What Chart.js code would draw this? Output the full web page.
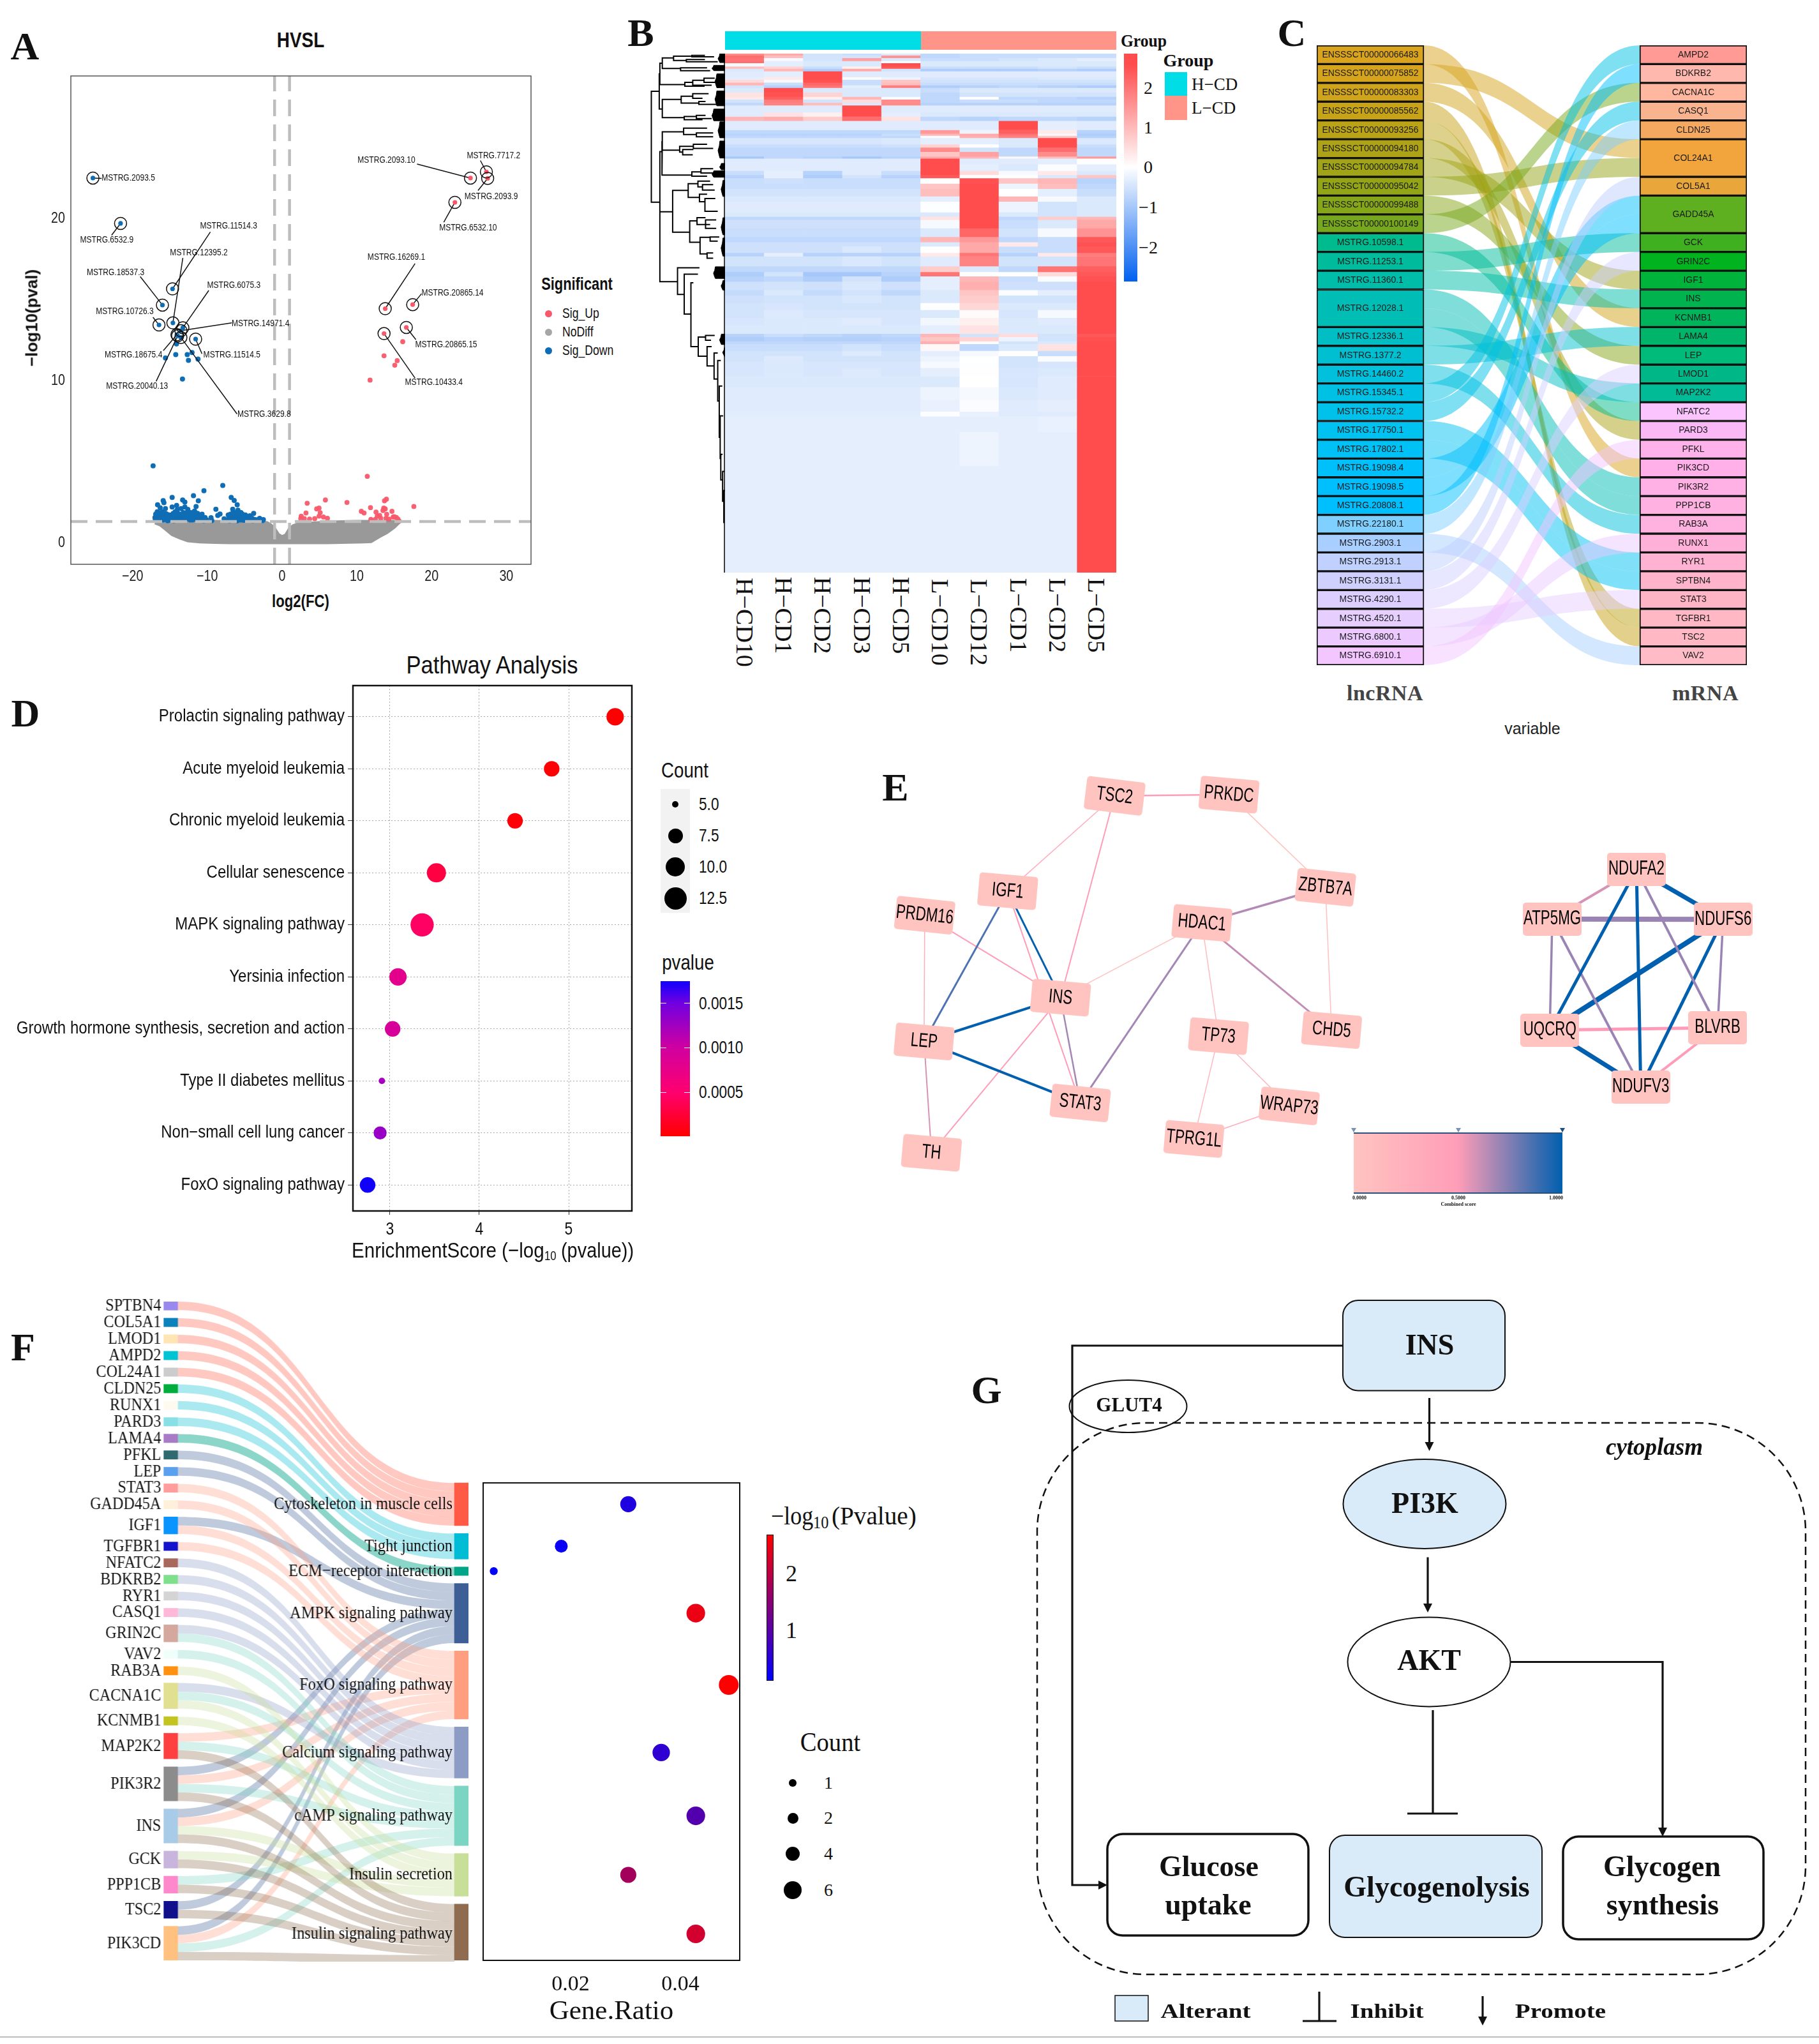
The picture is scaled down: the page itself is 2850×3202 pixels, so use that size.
<!DOCTYPE html>
<html>
<head>
<meta charset="utf-8">
<title>Multi-panel figure</title>
<script src="https://cdn.jsdelivr.net/npm/chart.js@4/dist/chart.umd.min.js"></script>
<style>
  html, body { margin: 0; padding: 0; background: #fff; }
  #page { position: relative; width: 2850px; height: 3202px; overflow: hidden; background: #fff; }
  #page canvas { position: absolute; }
  .lbl { position: absolute; white-space: nowrap; line-height: 1; color: #111; }
  .box { position: absolute; }
</style>
</head>
<body>
<div id="page"></div>
<script>
const SANS = '"Liberation Sans", Arial, sans-serif';
const SERIF = '"Liberation Serif", "Times New Roman", serif';

// ---------- Panel A data (volcano)
const aTicksX = [-20, -10, 0, 10, 20, 30];
const aTicksY = [0, 10, 20];
const grayX = [-17, -16.3, -15.5, -14.7, -13.6, -12.6, -11, -9, -7, -5.6, -4, -3, -2, -1.5, -1, -0.5, 0, 0.5, 1, 1.5, 2, 3, 4, 6, 8, 10, 11, 11.9, 13, 14, 15, 15.66];
const grayTop = [1.3, 1.3, 1.3, 1.3, 1.3, 1.3, 1.3, 1.3, 1.28, 1.28, 1.28, 1.26, 1.22, 1.08, 0.85, 0.5, 0.36, 0.46, 0.85, 1.04, 1.12, 1.16, 1.2, 1.25, 1.28, 1.3, 1.3, 1.3, 1.3, 1.3, 1.3, 1.3];
const grayBottom = [1.22, 1.1, 0.8, 0.5, 0.28, 0.12, 0.05, 0.02, 0, 0, 0, 0, 0, 0, 0, 0, 0, 0, 0, 0, 0, 0, 0, 0, 0.02, 0.04, 0.05, 0.07, 0.37, 0.62, 0.95, 1.25];
const downX = [-17, -16.9, -16.8, -16.65, -16.6, -16.5, -16.4, -16.3, -16.2, -16.1, -16, -15.9, -15.9, -15.8, -15.8, -15.7, -15.6, -15.6, -15.5, -15.3, -15.2, -15, -14.9, -14.7, -14.7, -14.7, -14.5, -14.3, -14.1, -14.1, -14, -13.8, -13.7, -13.5, -13.4, -13.3, -13.2, -13, -13, -12.9, -12.7, -12.6, -12.4, -12.2, -12, -11.9, -11.85, -11.7, -11.5, -11.5, -11.3, -11.2, -11.2, -11, -10.8, -10.7, -10.45, -10.5, -10.3, -10.1, -9.5, -9.4, -8.85, -8.6, -8.3, -7.93, -7.75, -7.3, -7.1, -7, -6.9, -6.8, -6.8, -6.6, -6.6, -6.4, -6.4, -6.2, -6.1, -6, -6, -5.9, -5.7, -5.6, -5.5, -5.4, -5.3, -5.1, -5, -4.9, -4.7, -4.6, -4.4, -4.3, -4.1, -3.9, -3.8, -3.6, -3.2, -3, -2.85, -2.6, -2.5,
  -17.25, -14.12, -14.22, -15.6, -12.68, -12.52, -12.04, -11.24, -13.32,
  -16.95, -16.75, -16.55, -16.35, -16.15, -15.95, -15.75, -15.45, -15.1, -14.8, -14.6, -14.4, -14.2, -13.9, -13.6, -13.3, -13.1, -12.8, -12.5, -12.3, -12.1, -11.8, -11.6, -11.4, -11.1, -10.9, -10.6, -10.2, -7.2, -6.95, -6.7, -6.5, -6.3, -6.05, -5.8, -5.2, -4.8, -4.5, -4.2, -4, -3.4,
  -16.7, -16.25, -15.65, -15.4, -15.05, -14.85, -14.55, -14.25, -13.95, -13.65, -13.35, -13.05, -12.75, -12.45, -12.15, -11.75, -11.45, -11.15, -10.85, -6.85, -6.55, -6.25, -5.95, -5.65, -5.35, -5.05, -4.65, -4.25];
const downY = [1.55, 1.75, 1.4, 2.33, 1.6, 1.85, 1.4, 2.15, 1.7, 1.5, 1.9, 1.4, 2.59, 1.65, 2.46, 1.45, 1.8, 2.1, 1.55, 1.35, 1.5, 1.7, 1.4, 1.55, 2.2, 2.79, 1.35, 1.9, 1.6, 2.29, 2.05, 1.4, 1.75, 2.1, 1.5, 2.63, 1.85, 2.2, 2.5, 1.45, 1.7, 2.05, 1.5, 1.85, 1.4, 1.65, 2.9, 1.95, 1.5, 2.23, 1.8, 1.4, 2.58, 1.6, 1.45, 1.75, 3.2, 1.35, 1.55, 1.4, 1.54, 1.36, 2.06, 1.67, 1.76, 3.53, 1.47, 1.4, 1.55, 1.35, 1.75, 2.79, 1.45, 2.06, 1.6, 2.6, 1.4, 1.85, 1.5, 2.33, 1.35, 2.0, 1.65, 1.4, 1.85, 1.5, 1.75, 1.38, 1.6, 1.7, 1.42, 1.55, 1.38, 1.65, 1.45, 1.36, 1.8, 1.42, 1.38, 1.5, 1.4, 1.36, 1.42,
  4.74, 12.26, 11.6, 11.4, 11.6, 11.25, 11.73, 11.33, 10.1,
  1.4, 1.5, 1.45, 1.65, 1.4, 1.6, 1.45, 1.7, 1.4, 1.65, 1.7, 1.5, 1.75, 1.6, 1.55, 1.6, 1.7, 1.55, 1.65, 1.4, 1.6, 1.45, 1.7, 1.6, 1.4, 1.55, 1.5, 1.38, 1.7, 1.6, 1.5, 1.7, 1.6, 1.75, 1.5, 1.45, 1.55, 1.6, 1.4, 1.5, 1.4,
  1.9, 1.55, 1.5, 1.75, 1.55, 1.45, 1.8, 1.45, 1.8, 1.4, 1.7, 1.5, 1.85, 1.75, 1.5, 1.45, 1.75, 1.6, 1.7, 1.55, 1.85, 1.45, 1.7, 1.55, 1.4, 1.5, 1.6, 1.45];
const upX = [16.14, 13.64, 15.4, 15.08, 11.77, 11.4, 17.63, 13.96, 13.7, 5.8, 8.68, 3.36, 4.95, 4.63, 3.2, 2.56, 2.5, 10.6, 10.97, 11.83, 13.6, 13.5, 13.8, 14.7, 12.57, 12.73, 13.05, 12.47, 11.88, 15.66, 14.86, 15.29, 14.3, 13.2, 4.95, 5.54, 6.07, 4.37, 3.68, 2.98, 5.1, 14, 15, 15.5, 12, 13.9];
const upY = [12.4, 11.53, 11.23, 10.95, 10.03, 4.09, 2.23, 2.68, 2.58, 2.63, 2.48, 2.43, 2.13, 2.08, 1.83, 1.63, 1.48, 1.93, 1.83, 2.16, 2.13, 1.98, 2.08, 1.93, 1.88, 1.63, 1.68, 1.43, 1.43, 1.33, 1.58, 1.55, 1.45, 1.5, 1.63, 1.58, 1.5, 1.48, 1.45, 1.48, 1.85, 1.75, 1.6, 1.45, 1.35, 1.5];
const tagNames = ['MSTRG.2093.5', 'MSTRG.6532.9', 'MSTRG.11514.3', 'MSTRG.12395.2', 'MSTRG.18537.3', 'MSTRG.10726.3', 'MSTRG.6075.3', 'MSTRG.14971.4', 'MSTRG.18675.4', 'MSTRG.11514.5', 'MSTRG.20040.13', 'MSTRG.3629.8', 'MSTRG.2093.10', 'MSTRG.7717.2', 'MSTRG.2093.9', 'MSTRG.6532.10', 'MSTRG.16269.1', 'MSTRG.20865.14', 'MSTRG.20865.15', 'MSTRG.10433.4'];
const tagX = [-25.3, -21.6, -14.65, -14.6, -16, -16.46, -13.27, -13.53, -14.06, -11.56, -13.96, -13.53, 25.2, 27.33, 27.5, 23.12, 13.8, 17.47, 16.62, 13.64];
const tagY = [22.5, 19.7, 15.66, 13.56, 14.66, 13.43, 13.26, 13.08, 12.83, 12.56, 12.76, 12.66, 22.5, 22.88, 22.48, 21, 14.44, 14.69, 13.28, 12.9];
const tagTextX = [-20.56, -23.44, -7.14, -11.13, -22.27, -21.04, -6.45, -2.88, -19.87, -6.71, -19.39, -2.4, 13.96, 28.29, 27.97, 24.88, 15.29, 22.8, 21.95, 20.3];
const tagTextY = [22.48, 18.65, 19.52, 17.89, 16.64, 14.24, 15.86, 13.51, 11.58, 11.58, 9.65, 7.92, 23.61, 23.88, 21.33, 19.4, 17.59, 15.39, 12.21, 9.87];
const tagLeadX = [-24.13, -22.8, -9.59, -13.27, -18.97, -17.26, -9.8, -6.71, -15.88, -10.71, -16.84, -6.02, 18.06, 26.53, 26.21, 21.63, 17.79, 18.65, 17.9, 17.79];
const tagLeadY = [22.48, 18.97, 19.17, 17.57, 16.42, 13.91, 15.56, 13.56, 11.85, 11.65, 9.95, 7.94, 23.36, 23.58, 21.73, 19.77, 17.22, 15.36, 12.53, 10.15];

// ---------- Panel B data (heatmap, rows from top, 3 row units = 1 picture pixel)
const heatSamples = ['H\u2212CD10', 'H\u2212CD1', 'H\u2212CD2', 'H\u2212CD3', 'H\u2212CD5', 'L\u2212CD10', 'L\u2212CD12', 'L\u2212CD1', 'L\u2212CD2', 'L\u2212CD5'];
const heatSpan = [8, 12, 14, 10, 16, 10, 12, 28, 12, 13, 13, 12, 22, 20, 13, 15, 12, 33, 20, 20, 43, 17, 10, 10, 30, 15, 20, 22, 10, 27,
  30, 20, 15, 25, 25, 35, 25, 50, 20, 15, 40, 40, 25, 20, 30, 17, 46, 27, 20, 25, 40,
  25, 35, 33, 37, 35, 40, 15, 20, 13, 32, 25, 25, 30, 40, 50, 60, 55, 23, 72, 160, 501];
const heatZ = [
  [1.6, 1.2, -.5, -.6, -.4, -.7, -.6, -.6, -.6, -.6],
  [2.0, .9, -.5, -.5, 1.5, -.7, -.6, -.6, -.6, -.6],
  [1.9, -.1, -.5, 1.3, -.4, -.6, -.6, -.5, -.4, -.3],
  [2.0, -.3, -.4, -.4, -.05, -.4, -.4, -.4, -.4, -.4],
  [-.1, -.3, -.4, -.4, 2.5, -.4, -.4, -.4, -.4, -.4],
  [.9, .6, -.6, .2, 2.3, -.6, -.6, -.6, -.5, -.6],
  [-.4, 1.0, -.9, 1.2, -.5, -.9, -.9, -.9, -.8, -.9],
  [-.35, -.3, 2.6, -.35, -.35, -.35, -.35, -.35, -.35, -.35],
  [-.3, .3, 2.5, .1, -.2, -.45, -.45, -.45, -.4, -.4],
  [.5, -.1, 2.4, -.6, .8, -.5, -.5, -.5, -.5, -.5],
  [1.0, -.6, 2.1, -.6, .9, -.6, -.6, -.6, -.6, -.6],
  [-.5, -.8, 1.9, -.3, 1.8, -.9, -.8, -.7, -.8, -.9],
  [-.4, 2.6, -.4, -.4, -.4, -.6, -.4, -.4, -.4, -.4],
  [.4, 2.4, .6, -.4, -.4, -.7, -.5, -.5, -.5, -.5],
  [.3, 2.2, .2, 1.0, -.05, -.7, 0, -.7, -.7, -.8],
  [-.5, 1.8, -.5, .5, 1.6, -.7, -.6, -.6, -.7, -.7],
  [-.7, 1.7, .9, -.4, 1.6, -.8, -.8, -.8, -.8, -.8],
  [-.35, -.35, -.35, 2.6, -.35, -.35, -.35, -.35, -.35, -.35],
  [-.35, .4, .2, 2.5, -.3, -.4, -.4, -.4, -.4, -.4],
  [1.0, 1.1, .7, 2.0, .4, -.7, -.8, -.7, -.7, -.8],
  [-.35, -.35, -.35, -.35, -.35, -.35, -.35, 2.6, -.3, -.35],
  [-.7, -.7, -.7, -.7, -.7, 1.4, -.2, 2.2, .3, -.8],
  [-.8, -.8, -.8, -.8, -.6, 1.0, 1.2, 1.9, -.1, -.9],
  [-.7, -.7, -.7, -.7, -.7, -.05, 1.1, 1.7, .8, -.8],
  [-.45, -.45, -.45, -.45, -.4, -.3, -.3, -.4, 2.6, -.4],
  [-.6, -.6, -.6, -.6, -.55, .6, 0, -.4, 2.5, -.6],
  [-.7, -.7, -.7, -.7, -.7, 1.6, -.5, -.7, 2.0, -.7],
  [-.7, -.7, -.7, -.7, -.7, .8, 1.3, -.7, 1.6, -.7],
  [-1, -.7, -.8, -1, -.8, 1.2, 1.0, .1, .9, 1.4],
  [-.35, -.35, -.35, -.35, -.35, 2.6, -.35, -.35, -.3, 0],
  [-.35, -.35, -.35, -.35, -.35, 2.6, -.3, -.4, -.05, -.3],
  [-.6, -.3, -.8, -.35, -.6, 2.5, .5, -.1, .3, -.4],
  [-.8, -.3, -.9, -.5, -.8, 2.3, 0, 0, -.4, .8],
  [-.6, -.55, -.6, -.6, -.6, 0, 2.4, .8, 1.0, -.8],
  [-.6, -.6, -.6, -.6, -.6, .8, 2.5, -.2, .9, -.7],
  [-.5, -.5, -.5, -.5, -.5, .9, 2.5, 0, -.3, -.6],
  [-.4, -.4, -.4, -.4, -.4, -.3, 2.6, 1.0, -.1, -.4],
  [-.35, -.35, -.35, -.35, -.35, -.02, 2.6, -.2, -.5, -.4],
  [-.4, -.4, -.4, -.4, -.4, -.4, 2.6, -.4, -.5, -.4],
  [-.7, -.7, -.7, -.7, -.7, .4, 2.5, -.7, .7, 1.0],
  [-.55, -.55, -.55, -.55, -.55, -.1, 2.5, -.6, -.4, 1.2],
  [-.6, -.6, -.6, -.6, -.6, -.4, 2.1, -.5, -.1, 1.5],
  [-.7, -.7, -.7, -.7, -.7, 1.0, 1.4, -.7, -.6, 2.3],
  [-.55, -.55, -.55, -.55, -.55, -.4, 1.2, .3, -.6, 2.4],
  [-.55, -.55, -.55, -.42, -.55, 0, 1.2, -.6, -.6, 2.3],
  [-.8, -.3, -.8, -.8, -.8, .3, 1.9, -.8, .3, 1.8],
  [-.5, -.5, -.5, -.42, -.5, -.35, 1.7, -.5, -.5, 1.9],
  [-.7, -.7, -.7, -.7, -.7, .7, -.4, -.7, 1.9, 2.2],
  [-.9, -.5, -1, -1, -.8, 1.9, 0, 0, .5, 2.3],
  [-.8, -.7, -.9, -.5, -.9, -.3, 1.0, -.6, -.05, 2.4],
  [-.55, -.5, -.55, -.42, -.55, -.3, 1.1, -.55, -.55, 2.5],
  [-.65, -.4, -.65, -.5, -.7, -.4, .8, -.05, -.3, 2.6],
  [-.55, -.5, -.5, -.42, -.5, -.4, .7, -.5, -.5, 2.6],
  [-.5, -.45, -.5, -.5, -.5, -.02, .55, -.4, -.4, 2.6],
  [-.5, -.38, -.45, -.45, -.45, -.4, .05, -.45, -.1, 2.6],
  [-.45, -.4, -.4, -.35, -.45, -.15, .2, -.4, -.35, 2.6],
  [-.4, -.4, -.4, -.4, -.4, -.3, .4, -.4, -.4, 2.6],
  [-.8, -.6, -.7, -.8, -.7, 1.0, -.5, .5, -.5, 2.3],
  [-.9, -.8, -.85, -.85, -.8, .8, .6, -.2, -.5, 2.4],
  [-.7, -.7, -.7, -.7, -.7, 1.1, .05, -.5, -.4, 2.6],
  [-.6, -.6, -.6, -.5, -.6, .1, -.7, -.4, .4, 2.6],
  [-.5, -.5, -.5, -.38, -.5, -.3, -.1, 0, -.6, 2.6],
  [-.5, -.38, -.5, -.5, -.5, -.2, 0, -.5, -.05, 2.6],
  [-.45, -.4, -.45, -.45, -.45, -.1, -.02, -.5, -.45, 2.6],
  [-.45, -.4, -.45, -.38, -.45, -.3, -.01, -.45, -.4, 2.6],
  [-.4, -.4, -.4, -.4, -.4, -.4, 0, -.45, -.35, 2.6],
  [-.35, -.35, -.35, -.35, -.35, -.2, -.1, -.4, -.35, 2.6],
  [-.35, -.35, -.35, -.35, -.35, -.25, -.05, -.35, -.3, 2.6],
  [-.33, -.33, -.33, -.33, -.33, -.03, -.25, -.35, -.35, 2.6],
  [-.3, -.3, -.3, -.3, -.3, -.3, -.3, -.3, -.25, 2.6],
  [-.3, -.3, -.3, -.3, -.3, -.3, -.2, -.3, -.3, 2.6],
  [-.3, -.3, -.3, -.3, -.3, -.3, -.3, -.3, -.3, 2.6]
];
// elbow: [height of the join, top row, top child height, bottom row, bottom child height]
const dendroElbows = [
  [22, 177, 48, 697, 50], [48, 95, 50, 260, 58], [50, 45, 58, 145, 132], [58, 20, 95, 70, 118], [95, 12, 155, 32, 137],
  [155, 8, 198, 15, 228], [137, 28, 198, 38, 240], [118, 67, 205, 80, 215], [132, 135, 158, 153, 197], [158, 125, 195, 148, 220],
  [195, 115, 230, 135, 235], [58, 215, 120, 300, 130], [120, 200, 158, 232, 178], [158, 188, 210, 210, 190], [178, 225, 200, 238, 240],
  [130, 295, 170, 310, 190], [170, 290, 200, 305, 220], [50, 460, 57, 900, 50], [50, 742, 92, 1070, 108], [57, 410, 58, 570, 155],
  [58, 367, 128, 453, 115], [128, 350, 205, 380, 170], [170, 372, 225, 390, 225], [115, 435, 160, 462, 125], [125, 450, 160, 475, 158],
  [160, 425, 205, 445, 225], [155, 555, 185, 575, 205], [185, 540, 225, 560, 235], [92, 642, 143, 838, 148], [143, 610, 175, 675, 180],
  [175, 598, 215, 625, 190], [190, 615, 225, 640, 230], [180, 660, 205, 695, 198], [198, 680, 232, 740, 240], [148, 785, 172, 885, 182],
  [172, 770, 200, 802, 215], [200, 780, 235, 820, 235], [182, 862, 215, 940, 205], [215, 860, 245, 880, 240], [205, 935, 225, 960, 225],
  [108, 1005, 180, 1130, 130], [130, 1035, 175, 1222, 152], [152, 1075, 160, 1375, 176], [176, 1330, 200, 1420, 205], [200, 1322, 230, 1345, 218],
  [205, 1375, 220, 1465, 228], [228, 1405, 240, 1527, 240], [240, 1440, 250, 1630, 245], [245, 1560, 255, 1800, 248], [248, 1700, 258, 1900, 250],
  [250, 1880, 256, 2000, 258], [256, 1960, 262, 2100, 260], [260, 2050, 264, 2200, 262]
];
const fringeTop = [0, 55, 95, 175, 260, 320, 410, 515, 550, 595, 770, 865, 1000, 1065, 1316, 1380];
const fringeBottom = [42, 80, 160, 245, 315, 395, 490, 545, 580, 670, 850, 950, 1055, 1110, 1365, 1420];
const fringeReach = [225, 205, 215, 215, 205, 225, 225, 230, 205, 235, 235, 235, 210, 235, 230, 240];

// ---------- Panel C data (lncRNA - mRNA alluvial)
const lncNames = ['ENSSSCT00000066483', 'ENSSSCT00000075852', 'ENSSSCT00000083303', 'ENSSSCT00000085562', 'ENSSSCT00000093256', 'ENSSSCT00000094180', 'ENSSSCT00000094784', 'ENSSSCT00000095042', 'ENSSSCT00000099488', 'ENSSSCT00000100149', 'MSTRG.10598.1', 'MSTRG.11253.1', 'MSTRG.11360.1', 'MSTRG.12028.1', 'MSTRG.12336.1', 'MSTRG.1377.2', 'MSTRG.14460.2', 'MSTRG.15345.1', 'MSTRG.15732.2', 'MSTRG.17750.1', 'MSTRG.17802.1', 'MSTRG.19098.4', 'MSTRG.19098.5', 'MSTRG.20808.1', 'MSTRG.22180.1', 'MSTRG.2903.1', 'MSTRG.2913.1', 'MSTRG.3131.1', 'MSTRG.4290.1', 'MSTRG.4520.1', 'MSTRG.6800.1', 'MSTRG.6910.1'];
const lncCount = [1, 1, 1, 1, 1, 1, 1, 1, 1, 1, 1, 1, 1, 2, 1, 1, 1, 1, 1, 1, 1, 1, 1, 1, 1, 1, 1, 1, 1, 1, 1, 1];
const mrnaNames = ['AMPD2', 'BDKRB2', 'CACNA1C', 'CASQ1', 'CLDN25', 'COL24A1', 'COL5A1', 'GADD45A', 'GCK', 'GRIN2C', 'IGF1', 'INS', 'KCNMB1', 'LAMA4', 'LEP', 'LMOD1', 'MAP2K2', 'NFATC2', 'PARD3', 'PFKL', 'PIK3CD', 'PIK3R2', 'PPP1CB', 'RAB3A', 'RUNX1', 'RYR1', 'SPTBN4', 'STAT3', 'TGFBR1', 'TSC2', 'VAV2'];
const mrnaCount = [1, 1, 1, 1, 1, 2, 1, 2, 1, 1, 1, 1, 1, 1, 1, 1, 1, 1, 1, 1, 1, 1, 1, 1, 1, 1, 1, 1, 1, 1, 1];
// link slots, one row each, top to bottom on the two sides
const linkFrom = [0, 1, 2, 3, 4, 5, 6, 7, 8, 9, 10, 11, 12, 13, 14, 15, 16, 17, 18, 19, 20, 21, 22, 23, 24, 25, 26, 27, 28, 29, 30, 31, 32];
const linkTo = [22, 5, 14, 31, 30, 20, 12, 6, 16, 2, 19, 10, 13, 23, 24, 18, 15, 25, 0, 3, 27, 28, 8, 9, 1, 4, 32, 7, 11, 17, 29, 26, 21];

// ---------- Panel D data (pathway dots)
const dPathways = ['Prolactin signaling pathway', 'Acute myeloid leukemia', 'Chronic myeloid leukemia', 'Cellular senescence', 'MAPK signaling pathway', 'Yersinia infection', 'Growth hormone synthesis, secretion and action', 'Type II diabetes mellitus', 'Non\u2212small cell lung cancer', 'FoxO signaling pathway'];
const dScore = [5.52, 4.81, 4.40, 3.52, 3.36, 3.09, 3.03, 2.91, 2.89, 2.75];
const dCount = [9, 8, 8, 10, 13, 9, 8, 5, 7, 8];
const dPvalue = [0.000003, 0.000015, 0.00004, 0.0003, 0.00044, 0.0008, 0.00093, 0.00123, 0.00129, 0.00178];
const dTicks = [3, 4, 5];
const dCountKey = ['5.0', '7.5', '10.0', '12.5'];
const dPvalueKey = ['0.0015', '0.0010', '0.0005'];

// ---------- Panel E data (network, node centres in layout units)
const netNames = ['TSC2', 'PRKDC', 'IGF1', 'ZBTB7A', 'PRDM16', 'HDAC1', 'INS', 'LEP', 'TP73', 'CHD5', 'STAT3', 'WRAP73', 'TPRG1L', 'TH', 'NDUFA2', 'ATP5MG', 'NDUFS6', 'UQCRQ', 'BLVRB', 'NDUFV3'];
const netX = [422, 608, 248, 765, 113, 564, 334, 112, 591, 775, 366, 706, 551, 124, 1271, 1134, 1412, 1130, 1403, 1278];
const netY = [142, 138, 460, 447, 540, 566, 815, 961, 943, 923, 1166, 1176, 1286, 1332, 387, 553, 554, 923, 915, 1113];
const netTilt = [7, 5, 5, 6, 6, 5, 5, 5, 5, 5, 6, 6, 5, 5, 0, 0, 0, 0, 0, 0];
const edgeA = ['TSC2', 'TSC2', 'TSC2', 'PRKDC', 'ZBTB7A', 'ZBTB7A', 'HDAC1', 'HDAC1', 'HDAC1', 'HDAC1', 'IGF1', 'IGF1', 'IGF1', 'PRDM16', 'PRDM16', 'LEP', 'LEP', 'LEP', 'INS', 'INS', 'TP73', 'TP73', 'WRAP73',
  'NDUFA2', 'NDUFA2', 'NDUFA2', 'NDUFA2', 'NDUFA2', 'ATP5MG', 'ATP5MG', 'ATP5MG', 'NDUFS6', 'NDUFS6', 'NDUFS6', 'UQCRQ', 'UQCRQ', 'BLVRB'];
const edgeB = ['PRKDC', 'IGF1', 'INS', 'ZBTB7A', 'HDAC1', 'CHD5', 'INS', 'STAT3', 'TP73', 'CHD5', 'INS', 'STAT3', 'LEP', 'INS', 'LEP', 'INS', 'STAT3', 'TH', 'TH', 'STAT3', 'TPRG1L', 'WRAP73', 'TPRG1L',
  'ATP5MG', 'NDUFS6', 'UQCRQ', 'NDUFV3', 'BLVRB', 'NDUFS6', 'UQCRQ', 'NDUFV3', 'UQCRQ', 'NDUFV3', 'BLVRB', 'BLVRB', 'NDUFV3', 'NDUFV3'];
const edgeScore = [.5, .3, .5, .05, .65, .05, .05, .68, .1, .62, 1, .5, .85, .5, .3, 1, 1, .58, .5, .68, .15, .2, .3,
  .58, 1, 1, 1, .7, .7, .7, .7, 1, 1, .7, .5, 1, .5];
const edgeWeight = [2.5, 1.5, 2, 1.5, 3.5, 1.5, 1.5, 3, 1.5, 3, 3, 2, 3, 2, 1.5, 4, 4, 2, 2, 2.5, 1.5, 1.5, 1.5,
  4, 7, 5, 5, 4, 8, 3.5, 4, 8, 5, 3.5, 5, 7, 4];

// ---------- Panel F data (gene - pathway sankey and dots)
const fGenes = ['SPTBN4', 'COL5A1', 'LMOD1', 'AMPD2', 'COL24A1', 'CLDN25', 'RUNX1', 'PARD3', 'LAMA4', 'PFKL', 'LEP', 'STAT3', 'GADD45A', 'IGF1', 'TGFBR1', 'NFATC2', 'BDKRB2', 'RYR1', 'CASQ1', 'GRIN2C', 'VAV2', 'RAB3A', 'CACNA1C', 'KCNMB1', 'MAP2K2', 'PIK3R2', 'INS', 'GCK', 'PPP1CB', 'TSC2', 'PIK3CD'];
const fPathways = ['Cytoskeleton in muscle cells', 'Tight junction', 'ECM\u2212receptor interaction', 'AMPK signaling pathway', 'FoxO signaling pathway', 'Calcium signaling pathway', 'cAMP signaling pathway', 'Insulin secretion', 'Insulin signaling pathway'];
const cytoGenes = ['SPTBN4', 'COL5A1', 'LMOD1', 'AMPD2', 'COL24A1'];
const tightGenes = ['CLDN25', 'RUNX1', 'PARD3'];
const ecmGenes = ['LAMA4'];
const ampkGenes = ['PFKL', 'LEP', 'IGF1', 'PIK3R2', 'INS', 'TSC2', 'PIK3CD'];
const foxoGenes = ['STAT3', 'GADD45A', 'IGF1', 'TGFBR1', 'MAP2K2', 'PIK3R2', 'INS', 'PIK3CD'];
const calciumGenes = ['NFATC2', 'BDKRB2', 'RYR1', 'CASQ1', 'GRIN2C', 'CACNA1C'];
const campGenes = ['GRIN2C', 'VAV2', 'CACNA1C', 'MAP2K2', 'PIK3R2', 'PPP1CB', 'PIK3CD'];
const secretionGenes = ['RAB3A', 'CACNA1C', 'KCNMB1', 'INS', 'GCK'];
const insulinGenes = ['MAP2K2', 'PIK3R2', 'INS', 'GCK', 'PPP1CB', 'TSC2', 'PIK3CD'];
const fGeneRatio = [0.0305, 0.0183, 0.006, 0.0428, 0.0488, 0.0365, 0.0428, 0.0305, 0.0428];
const fLogP = [0.4, 0.2, 0.1, 2.4, 2.6, 0.55, 0.9, 1.7, 2.15];
const fTicks = [0.02, 0.04];
const fCountKey = ['1', '2', '4', '6'];

// ---------- Styles kept apart from the data
const lncColors = ['#d9a31e', '#d5a31c', '#cfa31a', '#c7a318', '#bba317', '#aea316', '#a0a416', '#93a416', '#85a618', '#76a71c', '#00bb8e', '#00bc9c', '#00bdaa', '#00beb6', '#00bec4', '#00bfd0', '#00c0dc', '#00c1e4', '#00c1ea', '#00c2f0', '#00c1f6', '#00c0fc', '#00bfff', '#00bfff', '#7fd0ff', '#a8cfff', '#c0d0ff', '#d0d0ff', '#dccfff', '#e6cfff', '#eccaff', '#f4c6ff'];
const mrnaColors = ['#ff9a94', '#ffb8ae', '#ffb79f', '#f9b48f', '#f5a860', '#f2a53c', '#e9a63a', '#5fb020', '#3fb01f', '#00b31f', '#00b33a', '#00b34f', '#00b45c', '#00b46a', '#00bb7a', '#00b887', '#00bb95', '#fbc4ff', '#fbb8f6', '#ffb2ea', '#ffb0e8', '#ffb0e4', '#ffb2e2', '#ffb2e0', '#ffb0d8', '#ffb2d2', '#ffb4cc', '#ffb4c6', '#ffb8c4', '#ffb8c4', '#ffbcc6'];
const fGeneColors = ['#9988ee', '#0c82bd', '#ffe4b4', '#00c4d4', '#cccccc', '#00ad3c', '#fffaf0', '#88e0e6', '#a97bc6', '#2e6a6e', '#5aa0ee', '#ff9c9c', '#fff0dc', '#0a94ff', '#1414cc', '#a8685c', '#7ee08a', '#d4d4d4', '#ffb8d8', '#d4a89c', '#f0fffa', '#ff9010', '#e0e090', '#c4c420', '#ff4040', '#8c8c8c', '#a8cce8', '#c8b4dc', '#ff88cc', '#10108c', '#ffc080'];
const fPathColors = ['#ff5a45', '#00bcd4', '#00a587', '#3d5f95', '#ff9f80', '#8c9cc4', '#7cd4c2', '#c8df99', '#8f6c50'];

const page = document.getElementById('page');

function hexRgb(h) { return [parseInt(h.slice(1, 3), 16), parseInt(h.slice(3, 5), 16), parseInt(h.slice(5, 7), 16)]; }
function mix(a, b, t) {
  const p = hexRgb(a), q = hexRgb(b);
  return 'rgb(' + p.map((v, i) => Math.round(v + (q[i] - v) * t)).join(',') + ')';
}
function alpha(h, a) { const c = hexRgb(h); return 'rgba(' + c.join(',') + ',' + a + ')'; }
function ramp(stops, colors, v) {
  for (let i = 1; i < stops.length; i++) {
    if (v <= stops[i]) return mix(colors[i - 1], colors[i], (v - stops[i - 1]) / (stops[i] - stops[i - 1]));
  }
  return colors[colors.length - 1];
}
function lookup(xs, ys, v) {
  for (let i = 1; i < xs.length; i++) {
    if (v <= xs[i]) return ys[i - 1] + (ys[i] - ys[i - 1]) * (v - xs[i - 1]) / (xs[i] - xs[i - 1]);
  }
  return ys[ys.length - 1];
}

// text outside the charts
function label(text, x, y, font, opt) {
  opt = opt || {};
  const el = document.createElement('div');
  el.className = 'lbl';
  el.textContent = text;
  el.style.font = font;
  el.style.left = x + 'px';
  el.style.top = y + 'px';
  if (opt.color) el.style.color = opt.color;
  if (opt.spacing) el.style.letterSpacing = opt.spacing;
  const ax = opt.align === 'left' ? '0' : '-50%';
  el.style.transformOrigin = opt.align === 'left' ? 'left center' : 'center center';
  el.style.transform = 'translate(' + ax + ',-50%) rotate(' + (opt.rot || 0) + 'deg) scaleX(' + (opt.sx || 1) + ')';
  page.appendChild(el);
  return el;
}
function rect(x, y, w, h, css) {
  const el = document.createElement('div');
  el.className = 'box';
  el.style.cssText += 'left:' + x + 'px;top:' + y + 'px;width:' + w + 'px;height:' + h + 'px;' + (css || '');
  page.appendChild(el);
  return el;
}
function dot(x, y, r, color) { rect(x - r, y - r, 2 * r, 2 * r, 'border-radius:50%;background:' + color); }

// text inside a chart, squeezed like the original figure
function drawText(ctx, s, x, y, o) {
  ctx.save();
  ctx.translate(x, y);
  if (o.rot) ctx.rotate(o.rot);
  ctx.scale(o.sx || 1, 1);
  ctx.font = o.font;
  ctx.fillStyle = o.color || '#111';
  ctx.textAlign = o.align || 'center';
  ctx.textBaseline = 'middle';
  ctx.fillText(s, 0, 0);
  ctx.restore();
}

// canvas whose plot area lands exactly on the given box
function makeChart(box, margins, config) {
  const m = Object.assign({ l: 2, t: 2, r: 2, b: 2 }, margins);
  const c = document.createElement('canvas');
  const w = box.r - box.l + m.l + m.r, h = box.b - box.t + m.t + m.b;
  c.width = w; c.height = h;
  c.style.left = (box.l - m.l) + 'px';
  c.style.top = (box.t - m.t) + 'px';
  c.style.width = w + 'px';
  c.style.height = h + 'px';
  page.appendChild(c);
  config.options = config.options || {};
  Object.assign(config.options, { responsive: false, animation: false, devicePixelRatio: 1 });
  config.options.events = [];
  config.options.plugins = Object.assign({ legend: { display: false }, tooltip: { enabled: false } }, config.options.plugins);
  const sx = config.options.scales || {};
  config.options.layout = { autoPadding: false, padding: {
    left: sx.y && sx.y.display !== false ? 0 : m.l,
    right: m.r,
    top: m.t,
    bottom: sx.x && sx.x.display !== false ? 0 : m.b
  } };
  return new Chart(c, config);
}
function fitted(size) {
  return s => {
    if (s.isHorizontal()) s.height = size; else s.width = size;
    s.paddingLeft = s.paddingRight = s.paddingTop = s.paddingBottom = 0;
  };
}
function setTicks(list) { return s => { s.ticks = list.map(v => ({ value: v })); }; }
const framePlugin = {
  id: 'frame',
  afterDatasetsDraw(chart, args, o) {
    const a = chart.chartArea, ctx = chart.ctx;
    ctx.save();
    ctx.strokeStyle = o.color || '#333';
    ctx.lineWidth = o.width || 1.5;
    ctx.strokeRect(a.left, a.top, a.right - a.left, a.bottom - a.top);
    ctx.restore();
  }
};
// tick labels placed by the scale but squeezed sideways, the way the figure has them
const squeezePlugin = {
  id: 'squeeze',
  afterDraw(chart, args, o) {
    ['x', 'y'].forEach(k => {
      const c = o[k];
      if (!c) return;
      const s = chart.scales[k];
      s.ticks.forEach(t => {
        const p = s.getPixelForValue(t.value);
        const text = c.names ? c.names[t.value] : String(t.value).replace('-', '\u2212');
        if (k === 'x') drawText(chart.ctx, text, p, s.top + c.gap, { font: c.font, sx: c.sx, color: c.color });
        else drawText(chart.ctx, text, s.right - c.gap, p, { font: c.font, sx: c.sx, color: c.color, align: 'right' });
      });
    });
  }
};

// ---------- Panel A
const aLeads = tagNames.map((n, i) => ({
  type: 'scatter', showLine: true, pointRadius: 0, borderColor: '#111', borderWidth: 1.5, order: 1,
  data: [{ x: tagX[i], y: tagY[i] }, { x: tagLeadX[i], y: tagLeadY[i] }]
}));
const zipXY = (xs, ys) => xs.map((x, i) => ({ x: x, y: ys[i] }));
const aTagColor = tagX.map(x => x < 0 ? '#0f6db5' : '#f8586a');
const aTextPlugin = {
  id: 'aText',
  afterDatasetsDraw(chart) {
    const sx = chart.scales.x, sy = chart.scales.y;
    tagNames.forEach((n, i) => drawText(chart.ctx, n, sx.getPixelForValue(tagTextX[i]), sy.getPixelForValue(tagTextY[i]), { font: '14px ' + SANS, sx: 0.86 }));
  }
};
const guide = (pts) => ({ type: 'scatter', showLine: true, pointRadius: 0, borderColor: '#bdbdbd', borderWidth: 4.5, borderDash: [26, 13], order: 2, data: pts });
makeChart({ l: 110.5, t: 119, r: 832, b: 884 }, { l: 70, b: 40 }, {
  type: 'scatter',
  data: { datasets: [
    { data: zipXY(tagX, tagY), pointRadius: 9.5, backgroundColor: 'transparent', pointBorderColor: '#111', pointBorderWidth: 1.5, order: 0 },
    { data: zipXY(tagX, tagY), pointRadius: 3.6, backgroundColor: aTagColor, borderWidth: 0, order: 0.5 },
    ...aLeads,
    guide([{ x: -28.25, y: 1.3 }, { x: 33.3, y: 1.3 }]),
    guide([{ x: -1, y: -1.34 }, { x: -1, y: 28.8 }]),
    guide([{ x: 1, y: -1.34 }, { x: 1, y: 28.8 }]),
    { data: zipXY(downX, downY), pointRadius: 4, backgroundColor: '#0f6db5', borderWidth: 0, order: 3 },
    { data: zipXY(upX, upY), pointRadius: 3.9, backgroundColor: 'rgba(248,88,106,0.95)', borderWidth: 0, order: 3 },
    { type: 'scatter', showLine: true, data: zipXY(grayX, grayTop), fill: '+1', backgroundColor: '#999999', borderColor: '#999999', borderWidth: 5, pointRadius: 0, order: 4 },
    { type: 'scatter', showLine: true, data: zipXY(grayX, grayBottom), borderColor: '#999999', backgroundColor: '#999999', borderWidth: 5, pointRadius: 0, order: 4 }
  ] },
  options: {
    plugins: {
      frame: { color: '#555', width: 1.5 },
      squeeze: { x: { font: '24px ' + SANS, sx: 0.82, gap: 19, color: '#222' }, y: { font: '24px ' + SANS, sx: 0.82, gap: 9, color: '#222' } }
    },
    scales: {
      x: { type: 'linear', min: -28.25, max: 33.3, afterFit: fitted(40), afterBuildTicks: setTicks(aTicksX), grid: { display: false }, border: { display: false }, ticks: { display: false } },
      y: { type: 'linear', min: -1.34, max: 28.8, afterFit: fitted(70), afterBuildTicks: setTicks(aTicksY), grid: { display: false }, border: { display: false }, ticks: { display: false } }
    }
  },
  plugins: [framePlugin, aTextPlugin, squeezePlugin]
});
label('HVSL', 471, 62, 'bold 34px ' + SANS, { sx: 0.82 });
label('log2(FC)', 471, 942, 'bold 27px ' + SANS, { sx: 0.82 });
label('\u2212log10(pval)', 50, 498, 'bold 26px ' + SANS, { rot: -90, sx: 1 });
label('Significant', 904, 445, 'bold 28px ' + SANS, { sx: 0.78 });
['Sig_Up', 'NoDiff', 'Sig_Down'].forEach((t, i) => {
  const yy = [491, 520, 549][i];
  dot(859, yy, 5.5, ['#f8586a', '#a6a6a6', '#0f6db5'][i]);
  label(t, 881, yy, '22px ' + SANS, { align: 'left', sx: 0.8 });
});

// ---------- Panel B
const heatColor = z => z < 0 ? mix('#ffffff', '#0060f0', Math.min(1, -z / 2.85)) : mix('#ffffff', '#ff4d4d', Math.min(1, z / 2.45));
const heatTotal = heatSpan.reduce((a, b) => a + b, 0);
makeChart({ l: 1136, t: 84, r: 1749, b: 897 }, { l: 0, t: 0, r: 0, b: 0 }, {
  type: 'bar',
  data: { labels: heatSamples, datasets: heatSpan.map((s, i) => ({
    data: heatSamples.map(() => s),
    backgroundColor: heatZ[i].map(heatColor),
    borderWidth: 0, barPercentage: 1, categoryPercentage: 1
  })) },
  options: { scales: {
    x: { display: false, stacked: true },
    y: { display: false, stacked: true, reverse: true, min: 0, max: heatTotal }
  } }
});
// dendrogram, same rows as the heatmap
const dendroPts = [];
dendroElbows.forEach(e => {
  dendroPts.push({ x: e[2], y: e[1] }, { x: e[0], y: e[1] }, { x: e[0], y: e[3] }, { x: e[4], y: e[3] }, { x: null, y: null });
});
const fringeSets = fringeTop.map((t, i) => {
  const b = fringeBottom[i], h = b - t, r = fringeReach[i] + 16;
  return { type: 'scatter', showLine: true, fill: 'shape', backgroundColor: '#000', borderColor: '#000', borderWidth: 1, pointRadius: 0,
    data: [{ x: 264, y: t }, { x: r + 6, y: t }, { x: r + 4, y: t + h * 0.3 }, { x: r, y: t + h * 0.55 }, { x: r + 3, y: t + h * 0.8 }, { x: r + 6, y: b }, { x: 264, y: b }] };
});
makeChart({ l: 1010, t: 84, r: 1136, b: 897 }, { l: 0, t: 0, r: 0, b: 0 }, {
  type: 'scatter',
  data: { datasets: [
    { showLine: true, data: dendroPts, borderColor: '#000', borderWidth: 2, pointRadius: 0, spanGaps: false },
    { showLine: true, data: [{ x: 262, y: 0 }, { x: 262, y: heatTotal }], borderColor: '#000', borderWidth: 1.5, pointRadius: 0 },
    ...fringeSets
  ] },
  options: { scales: {
    x: { display: false, type: 'linear', min: 0, max: 264 },
    y: { display: false, type: 'linear', reverse: true, min: 0, max: heatTotal }
  } }
});
rect(1136, 49, 306.5, 28.5, 'background:#00dde6');
rect(1442.5, 49, 306.5, 28.5, 'background:#ff9488');
heatSamples.forEach((s, i) => label(s, 1136 + 61.3 * (i + 0.5), 905 + (s.length * 11.7), '38px ' + SERIF, { rot: 90 }));
label('Group', 1792, 64, 'bold 27px ' + SERIF, { sx: 0.95 });
rect(1760.6, 84, 21.4, 357, 'background:linear-gradient(to bottom,#ff4d4d 0%,#ff4d4d 5%,#ffffff 49.8%,#0060f0 100%)');
['2', '1', '0', '\u22121', '\u22122'].forEach((t, i) => label(t, 1799, [138, 200, 262, 324.5, 388][i], '28px ' + SERIF));
label('Group', 1862, 95, 'bold 28px ' + SERIF);
rect(1825, 112.5, 35, 37.5, 'background:#00dde6');
rect(1825, 150, 35, 38, 'background:#ff9488');
label('H\u2212CD', 1867, 132, '27px ' + SERIF, { align: 'left' });
label('L\u2212CD', 1867, 169, '27px ' + SERIF, { align: 'left' });

// ---------- Panel C
function nodeBars(counts, xPos, colors, border) {
  let y = 0;
  return counts.map((n, i) => {
    const d = { data: [{ x: xPos, y: [y, y + n] }], backgroundColor: colors[i], borderColor: border, borderWidth: border ? 2 : 0, borderSkipped: false, grouped: false };
    y += n;
    return d;
  });
}
function ribbon(ctx, x0, x1, a0, b0, a1, b1, color) {
  const m = (x0 + x1) / 2;
  ctx.beginPath();
  ctx.moveTo(x0, a0);
  ctx.bezierCurveTo(m, a0, m, a1, x1, a1);
  ctx.lineTo(x1, b1);
  ctx.bezierCurveTo(m, b1, m, b0, x0, b0);
  ctx.closePath();
  ctx.fillStyle = color;
  ctx.fill();
}
const lncOfRow = [], cNodeW = 168;
lncCount.forEach((n, i) => { for (let k = 0; k < n; k++) lncOfRow.push(i); });
function cumCenters(counts) { let y = 0; return counts.map(n => { const c = y + n / 2; y += n; return c; }); }
const cPlugin = {
  id: 'cRibbons',
  beforeDatasetsDraw(chart) {
    const sx = chart.scales.x, sy = chart.scales.y, ctx = chart.ctx;
    const x0 = sx.getPixelForValue(0) + cNodeW / 2, x1 = sx.getPixelForValue(1) - cNodeW / 2;
    linkFrom.forEach((f, i) => {
      const t = linkTo[i];
      ribbon(ctx, x0, x1, sy.getPixelForValue(f), sy.getPixelForValue(f + 1), sy.getPixelForValue(t), sy.getPixelForValue(t + 1), alpha(lncColors[lncOfRow[f]], 0.5));
    });
  },
  afterDatasetsDraw(chart) {
    const sx = chart.scales.x, sy = chart.scales.y, ctx = chart.ctx, font = '15px ' + SANS;
    cumCenters(lncCount).forEach((c, i) => drawText(ctx, lncNames[i], sx.getPixelForValue(0), sy.getPixelForValue(c), { font: font, sx: 0.93, color: '#1a1a1a' }));
    cumCenters(mrnaCount).forEach((c, i) => drawText(ctx, mrnaNames[i], sx.getPixelForValue(1), sy.getPixelForValue(c), { font: font, sx: 0.93, color: '#1a1a1a' }));
  }
};
const cBox = { l: 2063, t: 71, r: 2737, b: 1042 };
const cHalf = (cNodeW / 2) / (cBox.r - cBox.l - cNodeW);
makeChart(cBox, { l: 2, t: 2, r: 2, b: 2 }, {
  type: 'bar',
  data: { datasets: [...nodeBars(lncCount, 0, lncColors, '#111'), ...nodeBars(mrnaCount, 1, mrnaColors, '#111')].map(d => Object.assign(d, { barThickness: cNodeW })) },
  options: { scales: {
    x: { display: false, type: 'linear', offset: false, min: -cHalf, max: 1 + cHalf },
    y: { display: false, type: 'linear', reverse: true, min: 0, max: 33 }
  } },
  plugins: [cPlugin]
});
label('lncRNA', 2170, 1086, 'bold 34px ' + SERIF, { color: '#444', spacing: '0.5px' });
label('mRNA', 2672, 1086, 'bold 34px ' + SERIF, { color: '#444', spacing: '0.5px' });
label('variable', 2401, 1141, '25px ' + SANS, { color: '#222' });

// ---------- Panel D
const pStops = [0, 0.0005, 0.001, 0.0015, 0.00178];
const pColors = ['#ff0000', '#ff0070', '#d000a0', '#7000e0', '#1000ff'];
const dRadius = dCount.map(n => lookup([5, 7.5, 10, 12.5, 13], [5, 11.5, 15, 17.5, 18.2], n));
makeChart({ l: 553, t: 1074, r: 990, b: 1897 }, { l: 553, b: 46 }, {
  type: 'scatter',
  data: { datasets: [{
    data: dScore.map((v, i) => ({ x: v, y: i })),
    pointRadius: dRadius,
    backgroundColor: dPvalue.map(p => ramp(pStops, pColors, p)),
    borderWidth: 0
  }] },
  options: {
    plugins: {
      frame: { color: '#111', width: 2.5 },
      squeeze: { x: { font: '28px ' + SANS, sx: 0.82, gap: 29, color: '#111' }, y: { font: '27px ' + SANS, sx: 0.89, gap: 13, color: '#111', names: dPathways } }
    },
    scales: {
      x: { type: 'linear', min: 2.586, max: 5.707, afterFit: fitted(46), afterBuildTicks: setTicks(dTicks),
        grid: { color: '#a8a8a8', tickColor: '#333', tickLength: 6, lineWidth: 1 }, border: { display: false, dash: [2, 3] }, ticks: { display: false } },
      y: { type: 'linear', reverse: true, min: -0.6, max: 9.5, afterFit: fitted(553), afterBuildTicks: setTicks(dPathways.map((n, i) => i)),
        grid: { color: '#a8a8a8', tickColor: '#333', tickLength: 8, lineWidth: 1 }, border: { display: false, dash: [2, 3] }, ticks: { display: false } }
    }
  },
  plugins: [framePlugin, squeezePlugin]
});
label('Pathway Analysis', 771, 1042, '38px ' + SANS, { sx: 0.91 });
label('EnrichmentScore (\u2212log', 551, 1958, '34px ' + SANS, { align: 'left', sx: 0.87 });
label('10', 853, 1967, '21px ' + SANS, { align: 'left', sx: 0.8 });
label('(pvalue))', 879, 1958, '34px ' + SANS, { align: 'left', sx: 0.85 });
label('Count', 1073, 1207, '33px ' + SANS, { sx: 0.84 });
rect(1035, 1236, 46, 194, 'background:#f2f2f2');
dCountKey.forEach((t, i) => {
  const yy = [1260, 1309, 1358, 1407][i];
  dot(1058, yy, [5, 11.5, 15, 17.5][i], '#000');
  label(t, 1095, yy, '27px ' + SANS, { align: 'left', sx: 0.84 });
});
label('pvalue', 1078, 1508, '33px ' + SANS, { sx: 0.84 });
rect(1035, 1537, 46, 243, 'background:linear-gradient(to top,#ff0000 0%,#ff0070 28.4%,#d000a0 57%,#7000e0 86%,#1000ff 100%)');
dPvalueKey.forEach((t, i) => {
  const yy = [1571.5, 1641, 1711][i];
  label(t, 1095, yy, '27px ' + SANS, { align: 'left', sx: 0.84 });
  rect(1035, yy - 0.5, 9, 1, 'background:#fff');
  rect(1072, yy - 0.5, 9, 1, 'background:#fff');
});

// ---------- Panel E
const edgeStops = [0, 0.5, 1], edgeColors = ['#ffc4c0', '#ff9db8', '#005fae'];
const netIndex = n => netNames.indexOf(n);
const nodeImg = document.createElement('canvas');
nodeImg.width = 92; nodeImg.height = 52;
{
  const g = nodeImg.getContext('2d');
  g.fillStyle = '#ffc4c0';
  g.beginPath();
  g.roundRect(0, 0, 92, 52, 5);
  g.fill();
}
const ePlugin = {
  id: 'eLabels',
  afterDatasetsDraw(chart) {
    const sx = chart.scales.x, sy = chart.scales.y;
    netNames.forEach((n, i) => drawText(chart.ctx, n, sx.getPixelForValue(netX[i]), sy.getPixelForValue(netY[i]), {
      font: '31px ' + SANS, sx: 0.72, rot: netTilt[i] * Math.PI / 180, color: '#000' }));
  }
};
makeChart({ l: 1340, t: 1180, r: 2850, b: 1920 }, { l: 0, t: 0, r: 0, b: 0 }, {
  type: 'scatter',
  data: { datasets: [
    { data: netX.map((x, i) => ({ x: x, y: netY[i] })), pointStyle: nodeImg, pointRadius: 40, pointRotation: netTilt, order: 0 },
    ...edgeA.map((a, i) => ({
      showLine: true, pointRadius: 0, order: 1,
      borderColor: ramp(edgeStops, edgeColors, edgeScore[i]),
      borderWidth: edgeWeight[i],
      data: [{ x: netX[netIndex(a)], y: netY[netIndex(a)] }, { x: netX[netIndex(edgeB[i])], y: netY[netIndex(edgeB[i])] }]
    }))
  ] },
  options: { scales: {
    x: { display: false, type: 'linear', min: 0, max: 1568 },
    y: { display: false, type: 'linear', reverse: true, min: 0, max: 1575 }
  } },
  plugins: [ePlugin]
});
rect(2121, 1773.5, 327, 96, 'background:linear-gradient(to right,#ffc4c0 0%,#ff9db8 50%,#005fae 100%);border-top:2px solid #2a4f7a;border-bottom:2px solid #2a4f7a;box-sizing:border-box');
[2121, 2284.5, 2448].forEach((x, i) => rect(x - 4, 1767, 0, 0, 'border-left:4px solid transparent;border-right:4px solid transparent;border-top:7px solid ' + ['#7a93b5', '#7a93b5', '#1d4f86'][i]));
['0.0000', '0.5000', '1.0000'].forEach((t, i) => label(t, [2130, 2285, 2438][i], 1876, 'bold 8px ' + SERIF));
label('Combined score', 2285, 1886, 'bold 8px ' + SERIF);

// ---------- Panel F
const fPathLists = [cytoGenes, tightGenes, ecmGenes, ampkGenes, foxoGenes, calciumGenes, campGenes, secretionGenes, insulinGenes];
const fCounts = fGenes.map(g => fPathLists.filter(l => l.includes(g)).length);
const fPathCounts = fPathLists.map(l => l.length);
const fGap = 0.945, fPathStartRow = 21.3;
function fLayout(counts, start, gap) {
  let y = start;
  return counts.map(n => { const s = y; y += n + gap; return s; });
}
const fGeneStart = fLayout(fCounts, 0, fGap);
const fPathStart = fLayout(fPathCounts, fPathStartRow, 0.93);
const fRows = fGeneStart[fGeneStart.length - 1] + fCounts[fCounts.length - 1];
const fPathCentre = fPathStart.map((s, i) => s + fPathCounts[i] / 2);
const fNodeW = 22;
const fSpan = 455.5, fHalf = (fNodeW / 2) / fSpan;
const fPlugin = {
  id: 'fRibbons',
  beforeDatasetsDraw(chart) {
    const sx = chart.scales.x, sy = chart.scales.y, ctx = chart.ctx;
    const x0 = sx.getPixelForValue(0) + fNodeW / 2, x1 = sx.getPixelForValue(1) - fNodeW / 2;
    const used = fGenes.map(() => 0);
    fPathLists.forEach((list, p) => {
      const ordered = fGenes.filter(g => list.includes(g));
      ordered.forEach((g, k) => {
        const gi = fGenes.indexOf(g);
        const a = fGeneStart[gi] + used[gi];
        used[gi]++;
        const r = fPathStart[p] + k;
        ribbon(ctx, x0, x1, sy.getPixelForValue(a), sy.getPixelForValue(a + 1), sy.getPixelForValue(r), sy.getPixelForValue(r + 1), alpha(fPathColors[p], p === 2 ? 0.45 : 0.33));
      });
    });
  },
  afterDatasetsDraw(chart) {
    const sx = chart.scales.x, sy = chart.scales.y, ctx = chart.ctx, font = '28px ' + SERIF;
    fGenes.forEach((g, i) => drawText(ctx, g, sx.getPixelForValue(0) - fNodeW / 2 - 4, sy.getPixelForValue(fGeneStart[i] + fCounts[i] / 2), { font: font, sx: 0.86, align: 'right' }));
    fPathways.forEach((g, i) => drawText(ctx, g, sx.getPixelForValue(1) - fNodeW / 2 - 3, sy.getPixelForValue(fPathCentre[i]), { font: font, sx: 0.87, align: 'right' }));
  }
};
makeChart({ l: 256, t: 2039, r: 733.5, b: 3071 }, { l: 256, t: 20, r: 2, b: 2 }, {
  type: 'bar',
  data: { datasets: [
    ...fGenes.map((g, i) => ({ data: [{ x: 0, y: [fGeneStart[i], fGeneStart[i] + fCounts[i]] }], backgroundColor: fGeneColors[i], borderWidth: 0, grouped: false, barThickness: fNodeW })),
    ...fPathways.map((g, i) => ({ data: [{ x: 1, y: [fPathStart[i], fPathStart[i] + fPathCounts[i]] }], backgroundColor: fPathColors[i], borderWidth: 0, grouped: false, barThickness: fNodeW }))
  ] },
  options: { scales: {
    x: { display: false, type: 'linear', offset: false, min: -fHalf, max: 1 + fHalf },
    y: { display: false, type: 'linear', reverse: true, min: 0, max: fRows }
  } },
  plugins: [fPlugin]
});
const logStops = [0.1, 2.6], logColors = ['#0000ff', '#ff0000'];
makeChart({ l: 757, t: 2323, r: 1159, b: 3071 }, { l: 2, t: 2, r: 4, b: 56 }, {
  type: 'scatter',
  data: { datasets: [{
    data: fGeneRatio.map((v, i) => ({ x: v, y: fPathCentre[i] })),
    pointRadius: fPathCounts.map(n => 6.2 * Math.pow(n, 0.44)),
    backgroundColor: fLogP.map(v => ramp(logStops, logColors, v)),
    borderWidth: 0, clip: false
  }] },
  options: {
    plugins: { frame: { color: '#111', width: 2 } },
    scales: {
      x: { type: 'linear', min: 0.00407, max: 0.0508, afterFit: fitted(56), afterBuildTicks: setTicks(fTicks), grid: { display: false, tickColor: '#111', tickLength: 8, drawTicks: true }, border: { display: false },
        ticks: { font: { size: 34, family: SERIF }, color: '#111', padding: 10, maxRotation: 0, callback: v => v.toFixed(2) } },
      y: { display: false, type: 'linear', reverse: true, min: fPathStartRow, max: fRows }
    }
  },
  plugins: [framePlugin]
});
label('Gene.Ratio', 958, 3148, '43px ' + SERIF);
label('\u2212log', 1208, 2374, '40px ' + SERIF, { align: 'left', sx: 0.9 });
label('10', 1274, 2385, '27px ' + SERIF, { align: 'left', sx: 0.9 });
label('(Pvalue)', 1303, 2374, '40px ' + SERIF, { align: 'left', sx: 0.98 });
rect(1201, 2404, 11, 229, 'background:linear-gradient(to top,#0000ff,#ff0000);border:1px solid #111;box-sizing:border-box');
label('2', 1240, 2465, '36px ' + SERIF);
label('1', 1240, 2554, '36px ' + SERIF);
label('Count', 1301, 2729, '42px ' + SERIF, { sx: 0.92 });
fCountKey.forEach((t, i) => {
  const yy = [2793, 2848, 2904, 2961][i];
  dot(1242, yy, [6, 8.5, 11, 14][i], '#000');
  label(t, 1298, yy, '28px ' + SERIF);
});

// ---------- Panel G (diagram, page units)
const gLines = [
  [[2104, 2108], [1680, 2108], [1680, 2953], [1729, 2953]],
  [[2239.5, 2190], [2239.5, 2266]],
  [[2237, 2439.5], [2237, 2519]],
  [[2245, 2679], [2245, 2841]],
  [[2205, 2841], [2284, 2841]],
  [[2367, 2603.5], [2605, 2603.5], [2605, 2870]],
  [[2067, 3120], [2067, 3166]],
  [[2041, 3166], [2094, 3166]],
  [[2323, 3127], [2323, 3165]]
];
const gArrows = [[1735, 2953, 'r'], [2239.5, 2273, 'd'], [2237, 2526, 'd'], [2605, 2877, 'd'], [2323, 3173, 'd']];
const gPlugin = {
  id: 'gShapes',
  beforeDatasetsDraw(chart) {
    const sx = chart.scales.x, sy = chart.scales.y, ctx = chart.ctx;
    const X = v => sx.getPixelForValue(v), Y = v => sy.getPixelForValue(v);
    const box = (l, t, r, b, rad, fill, lw) => {
      ctx.beginPath();
      ctx.roundRect(X(l), Y(t), X(r) - X(l), Y(b) - Y(t), rad);
      if (fill) { ctx.fillStyle = fill; ctx.fill(); }
      ctx.lineWidth = lw; ctx.strokeStyle = '#111'; ctx.stroke();
    };
    const oval = (x, y, rx, ry, fill) => {
      ctx.beginPath();
      ctx.ellipse(X(x), Y(y), rx, ry, 0, 0, Math.PI * 2);
      if (fill) { ctx.fillStyle = fill; ctx.fill(); }
      ctx.lineWidth = 2; ctx.strokeStyle = '#111'; ctx.stroke();
    };
    ctx.save();
    ctx.setLineDash([13, 8]);
    box(1625, 2229, 2829, 3093, 170, null, 2.5);
    ctx.setLineDash([]);
    box(2104, 2037, 2358, 2178.5, 24, '#d9eaf9', 2);
    oval(2232, 2356, 127.5, 70, '#d9eaf9');
    oval(2239, 2603.5, 127.5, 70, '#fff');
    box(1735, 2873, 2050, 3032, 24, '#fff', 3.5);
    box(2083, 2875, 2416, 3035, 24, '#d9eaf9', 2);
    box(2449, 2877, 2763, 3038, 24, '#fff', 3.5);
    oval(1767.5, 2203, 92, 41, null);
    box(1747, 3126, 1799, 3166, 0, '#d9eaf9', 1.5);
    ctx.restore();
  },
  afterDatasetsDraw(chart) {
    const sx = chart.scales.x, sy = chart.scales.y, ctx = chart.ctx;
    const X = v => sx.getPixelForValue(v), Y = v => sy.getPixelForValue(v);
    ctx.fillStyle = '#111';
    gArrows.forEach(a => {
      const x = X(a[0]), y = Y(a[1]), s = 7;
      ctx.beginPath();
      if (a[2] === 'r') { ctx.moveTo(x, y); ctx.lineTo(x - 2 * s, y - s); ctx.lineTo(x - 2 * s, y + s); }
      else { ctx.moveTo(x, y); ctx.lineTo(x - s, y - 2 * s); ctx.lineTo(x + s, y - 2 * s); }
      ctx.closePath();
      ctx.fill();
    });
    const big = 'bold 46px ' + SERIF;
    [['INS', 2240, 2110], ['PI3K', 2232.5, 2358], ['AKT', 2239, 2604], ['Glucose', 1894, 2927], ['uptake', 1893, 2987], ['Glycogenolysis', 2251, 2959], ['Glycogen', 2604, 2927], ['synthesis', 2605, 2987]].forEach(t =>
      drawText(ctx, t[0], X(t[1]), Y(t[2]), { font: big, color: '#111' }));
    drawText(ctx, 'GLUT4', X(1769), Y(2203), { font: 'bold 31px ' + SERIF });
    drawText(ctx, 'cytoplasm', X(2592), Y(2269), { font: 'italic bold 37px ' + SERIF });
    [['Alterant', 1889], ['Inhibit', 2173], ['Promote', 2445]].forEach(t =>
      drawText(ctx, t[0], X(t[1]), Y(3153), { font: 'bold 32px ' + SERIF, sx: 1.22 }));
  }
};
makeChart({ l: 1480, t: 2000, r: 2850, b: 3186 }, { l: 0, t: 0, r: 0, b: 0 }, {
  type: 'scatter',
  data: { datasets: gLines.map(l => ({
    showLine: true, pointRadius: 0, borderColor: '#111', borderWidth: 3.2,
    data: l.map(p => ({ x: p[0], y: p[1] }))
  })) },
  options: { scales: {
    x: { display: false, type: 'linear', min: 1480, max: 2850 },
    y: { display: false, type: 'linear', reverse: true, min: 2000, max: 3186 }
  } },
  plugins: [gPlugin]
});

// ---------- Panel letters and the rule at the page foot
const letterFont = 'bold 62px ' + SERIF;
[['A', 39, 72], ['B', 1004, 51], ['C', 2024, 51], ['D', 40, 1117], ['E', 1403, 1233], ['F', 36, 2110], ['G', 1545.5, 2177]].forEach(t => label(t[0], t[1], t[2], letterFont));
rect(0, 3190, 2850, 2, 'background:#bdbdbd');
</script>
</body>
</html>
